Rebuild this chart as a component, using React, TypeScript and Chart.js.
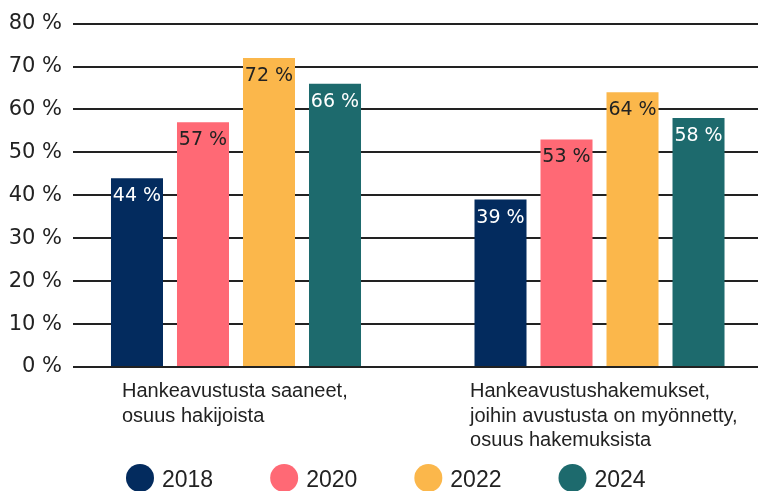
import React, { useEffect, useRef } from 'react';
import { Chart, registerables } from 'chart.js';

Chart.register(...registerables);

const categories: string[][] = [
  ['Hankeavustusta saaneet,', 'osuus hakijoista'],
  ['Hankeavustushakemukset,', 'joihin avustusta on myönnetty,', 'osuus hakemuksista'],
];
const years = ['2018', '2020', '2022', '2024'];
const values2018 = [44, 39];
const values2020 = [57, 53];
const values2022 = [72, 64];
const values2024 = [66, 58];
const series = [values2018, values2020, values2022, values2024];

const colors = ['#032b5e', '#ff6975', '#fbb74b', '#1d6a6d'];
const valueLabelColors = ['#ffffff', '#222222', '#222222', '#ffffff'];
const categoryLabelOffsets = [-114, -129.5];
const TEXT = '#222222';

const overlayPlugin = {
  id: 'overlay',
  afterDatasetsDraw(chart: any) {
    const ctx: CanvasRenderingContext2D = chart.ctx;
    ctx.save();
    // value labels inside bar tops
    ctx.font = '19px "DejaVu Sans"';
    ctx.textAlign = 'center';
    ctx.textBaseline = 'alphabetic';
    series.forEach((vals, i) => {
      const meta = chart.getDatasetMeta(i);
      meta.data.forEach((bar: any, j: number) => {
        ctx.fillStyle = valueLabelColors[i];
        ctx.fillText(`${vals[j]} %`, bar.x, bar.y + 23);
      });
    });
    // category labels
    const xs = chart.scales.x;
    ctx.font = '20px "Liberation Sans"';
    ctx.textAlign = 'left';
    ctx.fillStyle = TEXT;
    categories.forEach((lines, j) => {
      const left = xs.getPixelForValue(j) + categoryLabelOffsets[j];
      lines.forEach((line, k) => {
        ctx.fillText(line, left, 397 + k * 24.5);
      });
    });
    // legend
    ctx.font = '23px "Liberation Sans"';
    let x = 126;
    years.forEach((y, i) => {
      ctx.fillStyle = colors[i];
      ctx.beginPath();
      ctx.arc(x + 14, 478, 14, 0, Math.PI * 2);
      ctx.fill();
      ctx.fillStyle = TEXT;
      ctx.fillText(y, x + 36, 487);
      x += 36 + ctx.measureText(y).width + 57;
    });
    ctx.restore();
  },
};

export default function App() {
  const ref = useRef<HTMLCanvasElement>(null);
  useEffect(() => {
    if (!ref.current) return;
    const chart = new Chart(ref.current, {
      type: 'bar',
      data: {
        datasets: years.map((y, i) => ({
          label: y,
          data: series[i].map((v, j) => ({ x: j, y: v })),
          backgroundColor: colors[i],
          borderWidth: 0,
          categoryPercentage: 0.7263,
          barPercentage: 0.788,
        })),
      },
      options: {
        animation: false,
        responsive: false,
        devicePixelRatio: 1,
        layout: { padding: { top: 22, right: 0, bottom: 124, left: 0 } },
        plugins: {
          legend: { display: false },
          tooltip: { enabled: false },
        },
        scales: {
          x: {
            type: 'linear',
            display: false,
            offset: false,
            min: -0.4484,
            max: 1.436,
            afterBuildTicks: (s: any) => {
              s.ticks = [{ value: 0 }, { value: 1 }];
            },
          },
          y: {
            min: 0,
            max: 80,
            afterFit: (s: any) => {
              s.width = 73;
            },
            border: { display: false },
            grid: { color: '#222222', lineWidth: 2, drawTicks: false },
            ticks: {
              stepSize: 10,
              padding: 11,
              color: TEXT,
              font: { family: '"DejaVu Sans"', size: 21 },
              callback: (v: any) => `${v} %`,
            },
          },
        },
      } as any,
      plugins: [overlayPlugin],
    });
    return () => chart.destroy();
  }, []);
  return (
    <div style={{ position: 'fixed', left: 0, top: 0, width: 758, height: 491, background: '#fff' }}>
      <canvas ref={ref} width={758} height={491} style={{ display: 'block' }} />
    </div>
  );
}
